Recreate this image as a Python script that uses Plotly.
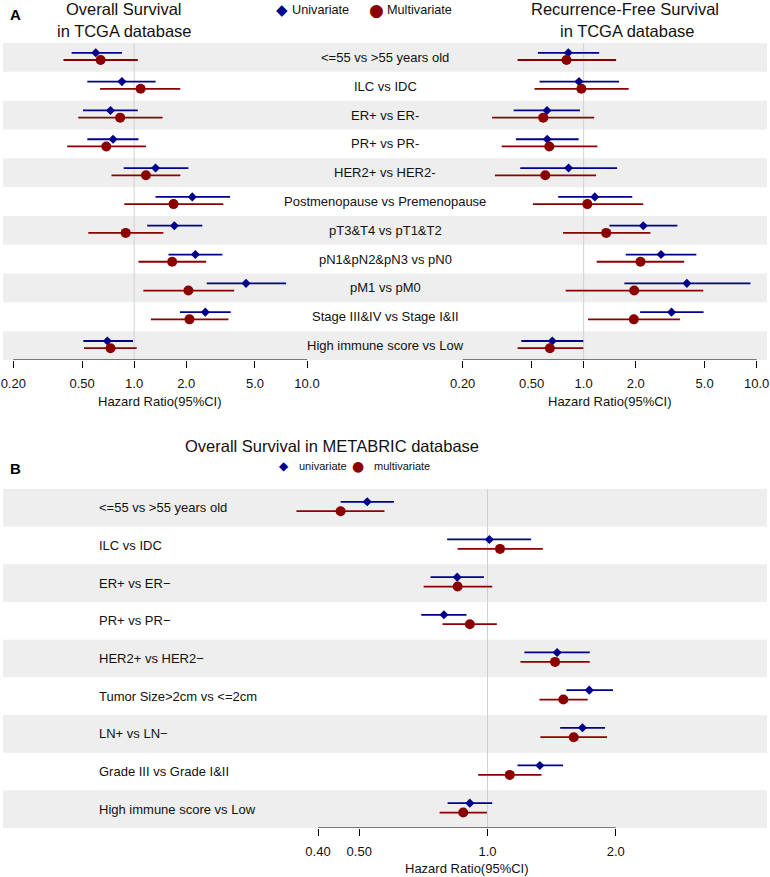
import math
import plotly.graph_objects as go

# ---------------- data ----------------
labels_A = ["<=55 vs >55 years old", "ILC vs IDC", "ER+ vs ER-", "PR+ vs PR-", "HER2+ vs HER2-",
            "Postmenopause vs Premenopause", "pT3&T4 vs pT1&T2", "pN1&pN2&pN3 vs pN0",
            "pM1 vs pM0", "Stage III&IV vs Stage I&II", "High immune score vs Low"]

os_uni_hr = [0.60, 0.85, 0.73, 0.755, 1.33, 2.17, 1.71, 2.26, 4.44, 2.58, 0.70]
os_uni_lo = [0.435, 0.536, 0.506, 0.536, 0.87, 1.33, 1.19, 1.58, 2.63, 1.84, 0.508]
os_uni_hi = [0.85, 1.33, 1.05, 1.06, 2.06, 3.59, 2.48, 3.24, 7.57, 3.62, 0.985]
os_multi_hr = [0.64, 1.09, 0.83, 0.69, 1.17, 1.69, 0.894, 1.66, 2.06, 2.09, 0.73]
os_multi_lo = [0.39, 0.635, 0.475, 0.41, 0.74, 0.877, 0.543, 1.06, 1.13, 1.25, 0.513]
os_multi_hi = [1.05, 1.85, 1.46, 1.17, 1.85, 3.28, 1.476, 2.61, 3.79, 3.51, 1.035]

rfs_uni_hr = [0.815, 0.94, 0.614, 0.616, 0.818, 1.16, 2.21, 2.80, 3.95, 3.22, 0.659]
rfs_uni_lo = [0.544, 0.556, 0.394, 0.406, 0.43, 0.713, 1.41, 1.75, 1.72, 2.12, 0.436]
rfs_uni_hi = [1.23, 1.60, 0.952, 0.935, 1.56, 1.91, 3.48, 4.48, 9.2, 4.93, 0.995]
rfs_multi_hr = [0.796, 0.97, 0.584, 0.633, 0.60, 1.05, 1.35, 2.13, 1.96, 1.95, 0.638]
rfs_multi_lo = [0.415, 0.52, 0.296, 0.336, 0.307, 0.509, 0.76, 1.19, 0.787, 1.06, 0.415]
rfs_multi_hi = [1.54, 1.82, 1.15, 1.2, 1.18, 2.21, 2.43, 3.81, 4.91, 3.60, 0.995]

labels_B = ["<=55 vs >55 years old", "ILC vs IDC", "ER+ vs ER\u2212", "PR+ vs PR\u2212",
            "HER2+ vs HER2\u2212", "Tumor Size>2cm vs <=2cm", "LN+ vs LN\u2212",
            "Grade III vs Grade I&II", "High immune score vs Low"]

mb_uni_hr = [0.522, 1.01, 0.849, 0.79, 1.457, 1.734, 1.671, 1.327, 0.909]
mb_uni_lo = [0.452, 0.804, 0.735, 0.699, 1.221, 1.532, 1.481, 1.176, 0.806]
mb_uni_hi = [0.603, 1.266, 0.981, 0.893, 1.738, 1.971, 1.888, 1.505, 1.026]
mb_multi_hr = [0.452, 1.07, 0.851, 0.909, 1.441, 1.507, 1.594, 1.128, 0.877]
mb_multi_lo = [0.356, 0.851, 0.708, 0.784, 1.195, 1.324, 1.331, 0.951, 0.772]
mb_multi_hi = [0.573, 1.349, 1.026, 1.052, 1.738, 1.719, 1.909, 1.339, 0.997]

ticks_A = [0.2, 0.5, 1.0, 2.0, 5.0, 10.0]
ticktext_A = ["0.20", "0.50", "1.0", "2.0", "5.0", "10.0"]
ticks_B = [0.4, 0.5, 1.0, 2.0]
ticktext_B = ["0.40", "0.50", "1.0", "2.0"]

# ---------------- style ----------------
BLUE = "#00008B"
RED = "#8B0000"
BAND = "#EEEEEE"
REF = "#D0D0D0"
SANS = "Liberation Sans, Arial, Helvetica, sans-serif"
SYM = "DejaVu Sans, sans-serif"
TXT = "#111111"
W, H = 770, 877
UNI_OFF, MULTI_OFF = -0.16, 0.09

fig = go.Figure()


def px_x(x):
    return x / W


def px_y(y):
    return 1 - y / H


def add_forest(xa, ya, hr_u, lo_u, hi_u, hr_m, lo_m, hi_m):
    n = len(hr_u)
    for hr, lo, hi, off, col, sym, size in [
        (hr_u, lo_u, hi_u, UNI_OFF, BLUE, "diamond", 7),
        (hr_m, lo_m, hi_m, MULTI_OFF, RED, "circle", 10),
    ]:
        xs, ys = [], []
        for i in range(n):
            xs += [lo[i], hi[i], None]
            ys += [i + 1 + off, i + 1 + off, None]
        fig.add_trace(go.Scatter(x=xs, y=ys, mode="lines", xaxis=xa, yaxis=ya,
                                 line=dict(color=col, width=1.8), showlegend=False,
                                 hoverinfo="skip", cliponaxis=False))
        fig.add_trace(go.Scatter(x=hr, y=[i + 1 + off for i in range(n)], mode="markers",
                                 xaxis=xa, yaxis=ya, showlegend=False, cliponaxis=False,
                                 marker=dict(color=col, symbol=sym, size=size, line=dict(width=0))))


def ref_and_axisline(xa, ya, n, lo_tick, hi_tick):
    fig.add_trace(go.Scatter(x=[1, 1], y=[0.5, n + 0.5], mode="lines", xaxis=xa, yaxis=ya,
                             line=dict(color=REF, width=1), showlegend=False, hoverinfo="skip"))
    fig.add_trace(go.Scatter(x=[lo_tick, hi_tick], y=[n + 0.5, n + 0.5], mode="lines",
                             xaxis=xa, yaxis=ya, cliponaxis=False,
                             line=dict(color="black", width=1), showlegend=False, hoverinfo="skip"))


nA, nB = len(labels_A), len(labels_B)

ref_and_axisline("x", "y", nA, ticks_A[0], ticks_A[-1])
ref_and_axisline("x2", "y", nA, ticks_A[0], ticks_A[-1])
ref_and_axisline("x3", "y3", nB, ticks_B[0], ticks_B[-1])

add_forest("x", "y", os_uni_hr, os_uni_lo, os_uni_hi, os_multi_hr, os_multi_lo, os_multi_hi)
add_forest("x2", "y", rfs_uni_hr, rfs_uni_lo, rfs_uni_hi, rfs_multi_hr, rfs_multi_lo, rfs_multi_hi)
add_forest("x3", "y3", mb_uni_hr, mb_uni_lo, mb_uni_hi, mb_multi_hr, mb_multi_lo, mb_multi_hi)

shapes = []
for i in range(0, nA, 2):
    shapes.append(dict(type="rect", xref="paper", yref="y", x0=px_x(3), x1=px_x(767),
                       y0=i + 0.5, y1=i + 1.5, fillcolor=BAND, line=dict(width=0), layer="below"))
for i in range(0, nB, 2):
    shapes.append(dict(type="rect", xref="paper", yref="y3", x0=px_x(3), x1=px_x(767),
                       y0=i + 0.5, y1=i + 1.5, fillcolor=BAND, line=dict(width=0), layer="below"))

ann = []
for i, lab in enumerate(labels_A):
    ann.append(dict(x=px_x(385), xref="paper", y=i + 1, yref="y", text=lab, showarrow=False,
                    xanchor="center", yanchor="middle", font=dict(family=SANS, size=13, color=TXT)))
for i, lab in enumerate(labels_B):
    ann.append(dict(x=px_x(97), xref="paper", y=i + 1, yref="y3", text=lab, showarrow=False,
                    xanchor="left", yanchor="middle", font=dict(family=SANS, size=13, color=TXT)))


def txt(x, y, text, size, anchor="center", family=SANS, color=TXT):
    return dict(x=px_x(x), y=px_y(y), xref="paper", yref="paper", text=text, showarrow=False,
                xanchor=anchor, yanchor="middle", font=dict(family=family, size=size, color=color))


ann += [
    txt(8, 14, "<b>A</b>", 15, "left", color="black"),
    txt(124, 9, "Overall Survival", 16.5),
    txt(124, 31, "in TCGA database", 16.5),
    txt(625, 9, "Recurrence-Free Survival", 16.5),
    txt(627, 31, "in TCGA database", 16.5),
    txt(282, 10, "\u25C6", 15, family=SYM, color=BLUE),
    txt(290, 10, "Univariate", 12.7, "left"),
    txt(376, 10, "\u25CF", 17, family=SYM, color=RED),
    txt(385, 10, "Multivariate", 12.7, "left"),
    txt(8, 468, "<b>B</b>", 15, "left", color="black"),
    txt(332, 446, "Overall Survival in METABRIC database", 16.5),
    txt(284, 465.5, "\u25C6", 12, family=SYM, color=BLUE),
    txt(297, 465.5, "univariate", 11, "left"),
    txt(358, 465.5, "\u25CF", 14, family=SYM, color=RED),
    txt(372, 465.5, "multivariate", 11, "left"),
    dict(x=math.log10(math.sqrt(ticks_A[0] * ticks_A[-1])), xref="x", y=px_y(401), yref="paper",
         text="Hazard Ratio(95%CI)", showarrow=False, xanchor="center", yanchor="middle",
         font=dict(family=SANS, size=13, color=TXT)),
    dict(x=math.log10(math.sqrt(ticks_A[0] * ticks_A[-1])), xref="x2", y=px_y(401), yref="paper",
         text="Hazard Ratio(95%CI)", showarrow=False, xanchor="center", yanchor="middle",
         font=dict(family=SANS, size=13, color=TXT)),
    dict(x=math.log10(math.sqrt(ticks_B[0] * ticks_B[-1])), xref="x3", y=px_y(868), yref="paper",
         text="Hazard Ratio(95%CI)", showarrow=False, xanchor="center", yanchor="middle",
         font=dict(family=SANS, size=13, color=TXT)),
]


def xrange_for(v_left, px_left, v_right, px_right):
    a, b = math.log10(v_left), math.log10(v_right)
    per = (b - a) / (px_right - px_left)
    return [a - px_left * per, a + (W - px_left) * per]


xcommon = dict(type="log", showgrid=False, zeroline=False, showline=False, ticks="outside",
               ticklen=7, tickcolor="black", tickwidth=1, domain=[0, 1],
               tickfont=dict(family=SANS, size=13, color=TXT), ticklabelstandoff=4)

fig.update_layout(
    width=W, height=H, margin=dict(l=0, r=0, t=0, b=0),
    paper_bgcolor="white", plot_bgcolor="rgba(0,0,0,0)", showlegend=False,
    shapes=shapes, annotations=ann,
    xaxis=dict(**xcommon, range=xrange_for(0.2, 13.3, 10.0, 307.0), tickvals=ticks_A,
               ticktext=ticktext_A, anchor="y"),
    xaxis2=dict(**xcommon, range=xrange_for(0.2, 462.7, 10.0, 756.7), tickvals=ticks_A,
                ticktext=ticktext_A, anchor="y", overlaying="x"),
    xaxis3=dict(**xcommon, range=xrange_for(0.4, 318.0, 2.0, 615.7), tickvals=ticks_B,
                ticktext=ticktext_B, anchor="y3"),
    yaxis=dict(domain=[px_y(360), px_y(43)], range=[nA + 0.5, 0.5], showgrid=False, zeroline=False,
               showticklabels=False, showline=False, anchor="x"),
    yaxis3=dict(domain=[px_y(828), px_y(489)], range=[nB + 0.5, 0.5], showgrid=False, zeroline=False,
                showticklabels=False, showline=False, anchor="x3"),
)

# remove the default 8px page margin so the 770x877 figure fills the window exactly
fig.write_html("out.html", config={"displayModeBar": False},
               post_script="document.body.style.margin='0';document.body.style.overflow='hidden';")
